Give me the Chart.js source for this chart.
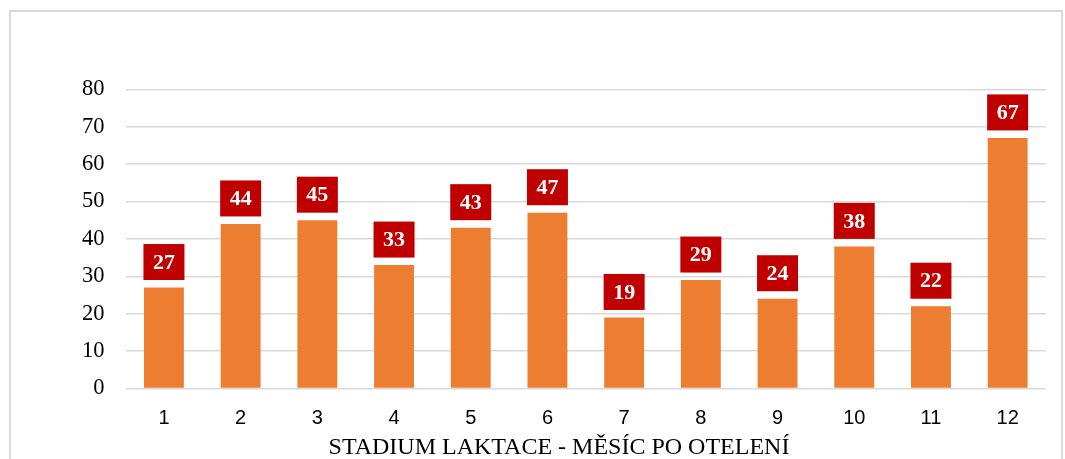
<!DOCTYPE html>
<html>
<head>
<meta charset="utf-8">
<script src="https://cdn.jsdelivr.net/npm/chart.js@4.4.1/dist/chart.umd.min.js"></script>
<style>
  html, body { margin: 0; padding: 0; background: #ffffff; }
  #frame { position: absolute; left: 9px; top: 10px; width: 1054px; height: 470px; box-sizing: border-box; border: 2px solid #d9d9d9; }
  #wrap { position: absolute; left: 0; top: 0; width: 1065px; height: 459px; overflow: hidden; }
  canvas { display: block; }
</style>
</head>
<body>
<div id="frame"></div>
<div id="wrap"><canvas id="c" width="1065" height="459"></canvas></div>
<script>
const categories = ["1", "2", "3", "4", "5", "6", "7", "8", "9", "10", "11", "12"];
const values = [27, 44, 45, 33, 43, 47, 19, 29, 24, 38, 22, 67];
const yTicks = [0, 10, 20, 30, 40, 50, 60, 70, 80];
const xTitle = "STADIUM LAKTACE - MĚSÍC PO OTELENÍ";

const labelPlugin = {
  id: 'boxLabels',
  afterDatasetsDraw(chart) {
    const ctx = chart.ctx;
    const meta = chart.getDatasetMeta(0);
    ctx.save();
    ctx.font = 'bold 22px "Liberation Serif", "Times New Roman", serif';
    ctx.textAlign = 'center';
    ctx.textBaseline = 'middle';
    meta.data.forEach((el, i) => {
      const w = 41, h = 36, gap = 7.5;
      const bx = el.x - w / 2;
      const by = el.y - gap - h;
      ctx.fillStyle = '#C00000';
      ctx.fillRect(bx, by, w, h);
      ctx.fillStyle = '#ffffff';
      ctx.fillText(String(values[i]), el.x, by + h / 2 + 1);
    });
    ctx.restore();
  }
};

const titlePlugin = {
  id: 'axisTitle',
  afterDraw(chart) {
    const ctx = chart.ctx;
    ctx.save();
    ctx.font = '24px "Liberation Serif", "Times New Roman", serif';
    ctx.fillStyle = '#000000';
    ctx.textAlign = 'center';
    ctx.textBaseline = 'alphabetic';
    ctx.fillText(xTitle, 559, 454);
    ctx.restore();
  }
};

new Chart(document.getElementById('c'), {
  type: 'bar',
  data: {
    labels: categories,
    datasets: [{
      data: values,
      backgroundColor: '#ED7D31',
      borderWidth: 0,
      barPercentage: 0.52,
      categoryPercentage: 1.0
    }]
  },
  options: {
    responsive: false,
    animation: false,
    events: [],
    layout: { padding: { left: 0, right: 19, top: 89.3, bottom: 0 } },
    plugins: { legend: { display: false }, tooltip: { enabled: false }, title: { display: false } },
    scales: {
      x: {
        grid: { display: false, drawTicks: false },
        border: { display: false },
        ticks: {
          color: '#000000',
          padding: 18,
          font: { family: '"Liberation Sans", Arial, sans-serif', size: 20 }
        },
        afterFit(s) { s.height = 70.5; }
      },
      y: {
        min: 0,
        max: 80,
        afterBuildTicks(s) { s.ticks = yTicks.map(v => ({ value: v })); },
        grid: { color: '#d9d9d9', lineWidth: 1.5, drawTicks: false },
        border: { display: false },
        ticks: {
          color: '#000000',
          padding: 21,
          font: { family: '"Liberation Serif", "Times New Roman", serif', size: 22.5 }
        },
        afterFit(s) { s.width = 125.6; }
      }
    }
  },
  plugins: [labelPlugin, titlePlugin]
});
</script>
</body>
</html>
